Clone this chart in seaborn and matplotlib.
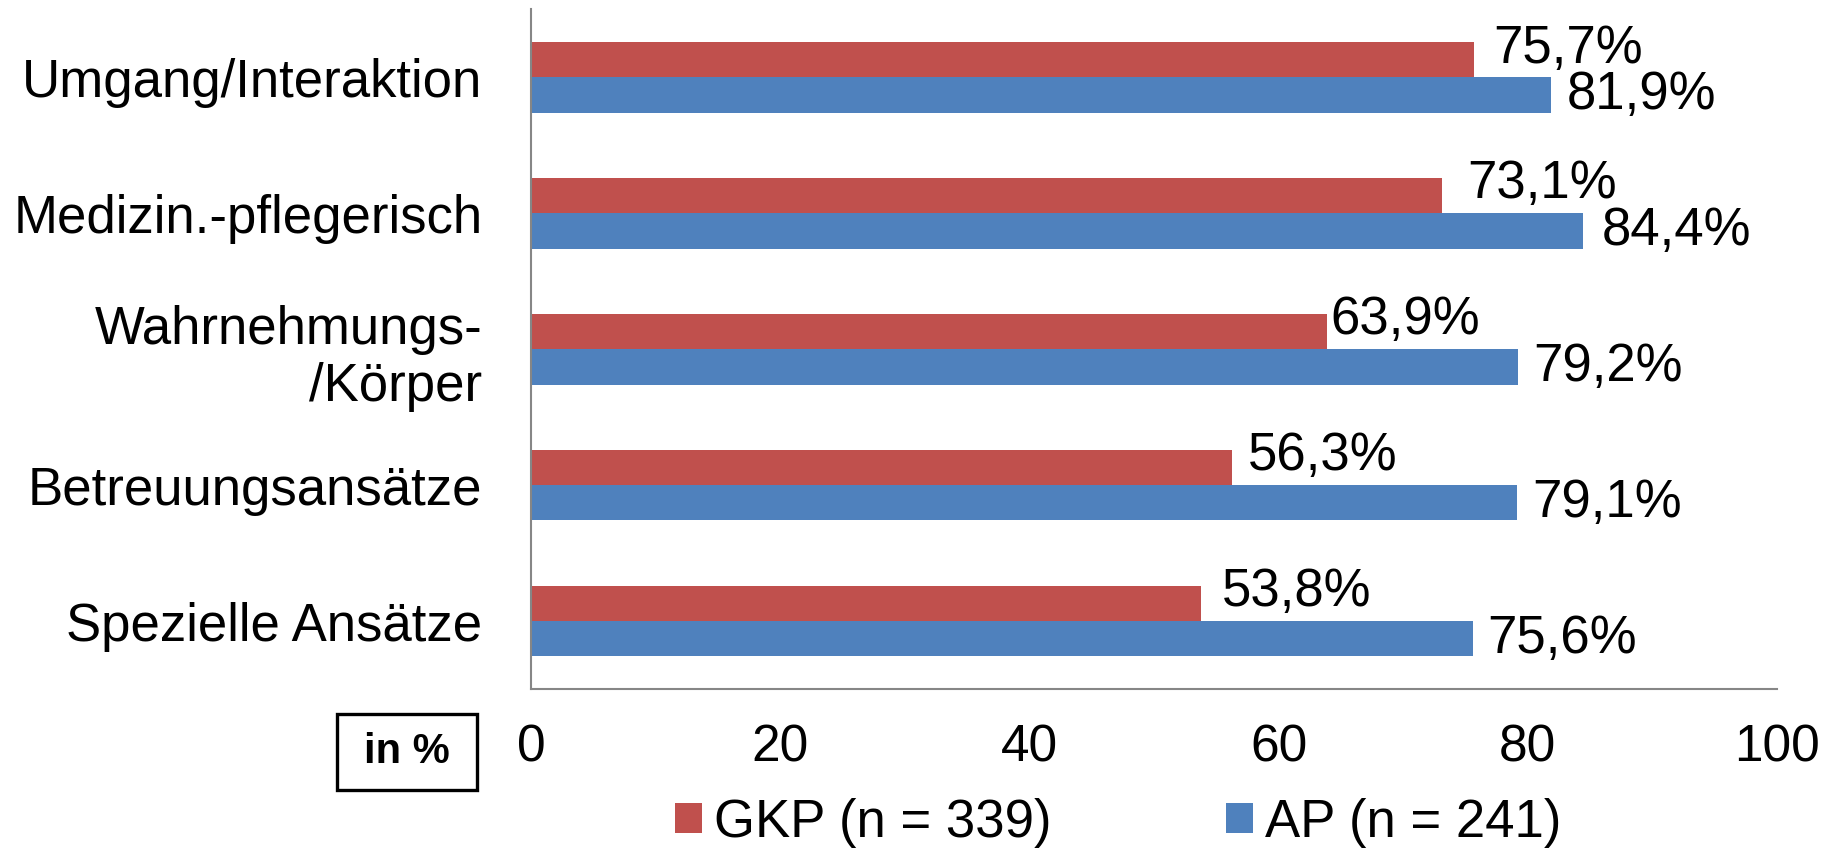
import pandas as pd
import seaborn as sns
import matplotlib.pyplot as plt
from matplotlib.patches import Rectangle

sns.set_style('white')
plt.rcParams['font.family'] = ['Liberation Sans', 'DejaVu Sans']
plt.rcParams['text.color'] = 'black'
plt.rcParams['xtick.labelcolor'] = 'black'
plt.rcParams['ytick.labelcolor'] = 'black'

# data
categories = ['Umgang/Interaktion', 'Medizin.-pflegerisch', 'Wahrnehmungs-\n/Körper',
              'Betreuungsansätze', 'Spezielle Ansätze']
groups = ['GKP (n = 339)', 'AP (n = 241)']
gkp_values = [75.7, 73.1, 63.9, 56.3, 53.8]
ap_values = [81.9, 84.4, 79.2, 79.1, 75.6]
x_ticks = [0, 20, 40, 60, 80, 100]

# label nudges (points) right of the bar end, as placed in the original
gkp_label_dx = [14, 18, 2, 11, 15]
ap_label_dx = [11, 14, 11, 11, 10]

df = pd.DataFrame({
    'category': categories * 2,
    'group': [groups[0]] * len(categories) + [groups[1]] * len(categories),
    'value': gkp_values + ap_values,
})

#%%
fig, ax = plt.subplots(figsize=(18.31, 8.48), dpi=100)
fig.subplots_adjust(left=0.29, right=0.9705, top=0.989, bottom=0.1875)

sns.barplot(data=df, x='value', y='category', hue='group', orient='h',
            palette=['#C0504D', '#4F81BD'], saturation=1, width=0.52,
            linewidth=0, ax=ax)

ax.set_xlim(0, 100)
ax.set_xticks(x_ticks)
ax.set_xlabel('')
ax.set_ylabel('')
ax.tick_params(axis='x', length=0, pad=25, labelsize=37)
ax.tick_params(axis='y', length=0, pad=35, labelsize=38)
for side in ['top', 'right']:
    ax.spines[side].set_visible(False)
for side in ['left', 'bottom']:
    ax.spines[side].set_color('#868686')
    ax.spines[side].set_linewidth(1.5)

# value labels
for cont, dxs, dy in zip(ax.containers, [gkp_label_dx, ap_label_dx], [8, 0]):
    for bar, dx in zip(cont, dxs):
        w = bar.get_width()
        yc = bar.get_y() + bar.get_height() / 2
        ax.annotate(f'{w:.1f}'.replace('.', ',') + '%', xy=(w, yc),
                    xytext=(dx, dy), textcoords='offset points',
                    ha='left', va='center', fontsize=38)

# legend at the bottom
handles, labels = ax.get_legend_handles_labels()
ax.legend_.remove()
fig.legend(handles, labels, loc='center', bbox_to_anchor=(0.6106, 0.03),
           ncol=2, frameon=False, fontsize=38, handlelength=0.51,
           handleheight=0.51, handletextpad=0.23, columnspacing=3.3,
           borderpad=0, borderaxespad=0)

# "in %" box
fig.patches.append(Rectangle((337 / 1831, 1 - 790 / 848), 140 / 1831, 76 / 848,
                             transform=fig.transFigure, facecolor='white',
                             edgecolor='black', linewidth=2.4))
fig.text(407 / 1831, 1 - 752 / 848, 'in %', ha='center', va='center',
         fontsize=30, fontweight='bold')

fig.savefig('out.png', dpi=100)
